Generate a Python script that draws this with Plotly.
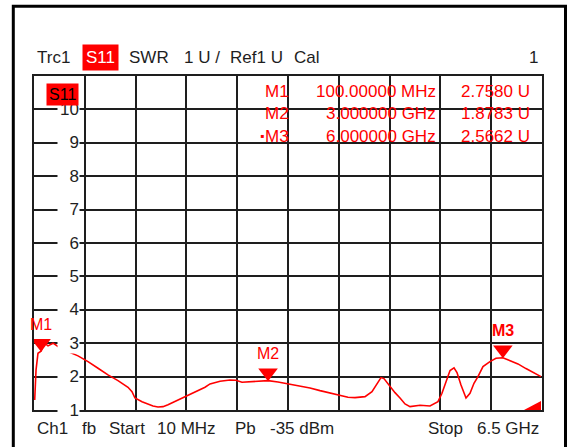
import plotly.graph_objects as go

# S11 SWR trace (frequency in MHz)
freq_mhz = [19, 36, 61, 100, 147, 189, 253, 317, 380, 444, 572, 700, 828, 955,
            1083, 1211, 1262, 1300, 1390, 1466, 1530, 1594, 1658, 1722, 1824,
            1939, 2067, 2195, 2259, 2387, 2514, 2590, 2667, 2770, 2897, 3000,
            3127, 3281, 3408, 3536, 3664, 3792, 3919, 4021, 4111, 4239, 4328,
            4392, 4443, 4481, 4558, 4622, 4686, 4750, 4814, 4942, 5069, 5171,
            5222, 5273, 5325, 5376, 5414, 5465, 5529, 5580, 5631, 5682, 5746,
            5835, 5912, 6000, 6091, 6193, 6295, 6398, 6487]
swr = [1.30, 2.20, 2.70, 2.758, 3.00, 2.92, 3.00, 2.90, 2.85, 2.75, 2.62, 2.45,
       2.25, 2.05, 1.88, 1.68, 1.55, 1.36, 1.25, 1.18, 1.12, 1.09, 1.10, 1.16,
       1.27, 1.39, 1.55, 1.68, 1.78, 1.86, 1.90, 1.89, 1.83, 1.84, 1.86, 1.878,
       1.84, 1.78, 1.72, 1.66, 1.58, 1.51, 1.44, 1.38, 1.37, 1.40, 1.55, 1.80,
       1.97, 1.94, 1.70, 1.52, 1.36, 1.18, 1.10, 1.14, 1.12, 1.25, 1.50, 1.85,
       2.18, 2.26, 2.12, 1.75, 1.36, 1.50, 1.80, 2.00, 2.30, 2.45, 2.55, 2.566,
       2.48, 2.38, 2.24, 2.12, 2.00]

marker_names = ["M1", "M2", "M3"]
marker_freq_mhz = [100, 3000, 6000]
marker_swr = [2.7580, 1.8783, 2.5662]
marker_freq_text = ["100.00000 MHz", "3.000000 GHz", "6.000000 GHz"]
marker_val_text = ["2.7580 U", "1.8783 U", "2.5662 U"]

y_ticks = list(range(1, 11))
f_start, f_stop = 10, 6500

RED = "#ff0000"
INK = "#1e1e1e"
FONT = "Liberation Sans, Arial, sans-serif"

# plot area in pixels (left, top, width, height)
L, T, W, H = 34, 76, 508, 334


def px(x):
    return (x - L) / W


def py(y):
    return (T + H - y) / H


fig = go.Figure()
fig.add_trace(go.Scatter(
    x=freq_mhz, y=swr, mode="lines",
    line=dict(color=RED, width=1.6), hoverinfo="skip",
))
fig.add_trace(go.Scatter(
    x=marker_freq_mhz, y=marker_swr, mode="markers",
    marker=dict(symbol="triangle-up", angle=180, standoff=8, size=17, color=RED),
    hoverinfo="skip",
))

ann = []
# marker labels above the triangles
for name, f, v in zip(marker_names, marker_freq_mhz, marker_swr):
    ann.append(dict(x=f, y=v, xref="x", yref="y", text=f"<b>{name}</b>" if name == "M3" else name,
                    showarrow=False, yshift=27, xanchor="center", yanchor="middle",
                    font=dict(color=RED, size=16, family=FONT)))

# y tick labels sitting inside the first column
for v in y_ticks:
    ann.append(dict(x=px(80), y=v, xref="paper", yref="y", text=str(v), showarrow=False,
                    xanchor="right", yanchor="middle", width=21, align="right",
                    bgcolor="white", borderpad=0, font=dict(color=INK, size=17, family=FONT)))

# trace label box inside the grid
ann.append(dict(x=px(62.5), y=py(94), xref="paper", yref="paper", text="S11", showarrow=False,
                xanchor="center", yanchor="middle",
                bgcolor=RED, borderpad=2, font=dict(color="black", size=16, family=FONT)))

# marker readout table
rows_y = [91.7, 113.3, 136]
for name, ft, vt, ry in zip(marker_names, marker_freq_text, marker_val_text, rows_y):
    for txt, rx in ((name, 291), (ft, 438), (vt, 532)):
        ann.append(dict(x=px(rx), y=py(ry), xref="paper", yref="paper", text=txt, showarrow=False,
                        xanchor="right", yanchor="middle", font=dict(color=RED, size=17, family=FONT)))
ann.append(dict(x=px(262), y=py(136), xref="paper", yref="paper", text="▪", showarrow=False,
                xanchor="center", yanchor="middle", font=dict(color=RED, size=12, family=FONT)))

# header line
for txt, x in (("Trc1", 35), ("SWR", 127), ("1 U /", 182), ("Ref1 U", 228), ("Cal", 292)):
    ann.append(dict(x=px(x), y=py(58), xref="paper", yref="paper", text=txt, showarrow=False,
                    xanchor="left", yanchor="middle", font=dict(color=INK, size=17, family=FONT)))
ann.append(dict(x=px(100), y=py(57.5), xref="paper", yref="paper", text="S11", showarrow=False,
                xanchor="center", yanchor="middle", bgcolor=RED, borderpad=3,
                font=dict(color="white", size=17, family=FONT)))
ann.append(dict(x=px(540), y=py(58), xref="paper", yref="paper", text="1", showarrow=False,
                xanchor="right", yanchor="middle", font=dict(color=INK, size=17, family=FONT)))

# footer line
for txt, x in (("Ch1", 35), ("fb", 80), ("Start", 107), (f"{f_start} MHz", 155), ("Pb", 233),
               ("-35 dBm", 268), ("Stop", 426)):
    ann.append(dict(x=px(x), y=py(428), xref="paper", yref="paper", text=txt, showarrow=False,
                    xanchor="left", yanchor="middle", font=dict(color=INK, size=17, family=FONT)))
ann.append(dict(x=px(541), y=py(428), xref="paper", yref="paper", text=f"{f_stop / 1000:g} GHz",
                showarrow=False, xanchor="right", yanchor="middle",
                font=dict(color=INK, size=17, family=FONT)))

shapes = [
    # outer instrument frame
    dict(type="rect", xref="paper", yref="paper", x0=px(13.3), x1=px(565.5), y0=py(470), y1=py(6.2),
         line=dict(color="black", width=3), layer="above"),
    # reference level wedge bottom right
    dict(type="path", xref="paper", yref="paper",
         path=f"M {px(524)} {py(410)} L {px(541)} {py(410)} L {px(541)} {py(401)} Z",
         fillcolor=RED, line=dict(color=RED, width=0), layer="above"),
]

fig.update_layout(
    width=569, height=447,
    margin=dict(l=L, r=569 - L - W, t=T, b=447 - T - H),
    plot_bgcolor="white", paper_bgcolor="white",
    showlegend=False,
    annotations=ann,
    shapes=shapes,
)
axis_style = dict(showgrid=True, gridcolor=INK, gridwidth=2, showticklabels=False, ticks="",
                  zeroline=False, showline=True, mirror=True, linecolor=INK, linewidth=2,
                  fixedrange=True)
fig.update_xaxes(range=[f_start, f_stop], tick0=f_start, dtick=(f_stop - f_start) / 10, **axis_style)
fig.update_yaxes(range=[1, 11], tick0=1, dtick=1, **axis_style)

# drop the default page margin so the figure sits at the window's corner
fig.write_html("out.html", config={"displayModeBar": False},
               post_script="document.body.style.margin='0';")
